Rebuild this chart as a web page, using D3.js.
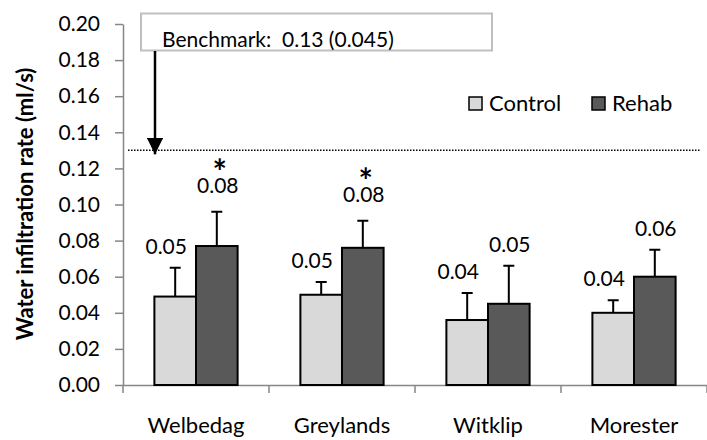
<!DOCTYPE html>
<html>
<head>
<meta charset="utf-8">
<script src="https://cdn.jsdelivr.net/npm/d3@7"></script>
<style>
  html, body { margin: 0; padding: 0; background: #fff; }
  svg { display: block; }
  text { font-family: Lato, "Open Sans", sans-serif; fill: #000; white-space: pre; }
</style>
</head>
<body>
<svg id="chart" width="707" height="440"></svg>
<script>
// ---- data ----
const categories = ["Welbedag", "Greylands", "Witklip", "Morester"];
const seriesNames = ["Control", "Rehab"];
const controlValues = [0.049, 0.050, 0.036, 0.040];
const controlErrors = [0.016, 0.007, 0.015, 0.007];
const rehabValues = [0.077, 0.076, 0.045, 0.060];
const rehabErrors = [0.019, 0.015, 0.021, 0.015];
const controlLabels = ["0.05", "0.05", "0.04", "0.04"];
const rehabLabels = ["0.08", "0.08", "0.05", "0.06"];
const significant = [true, true, false, false];
const yTicks = [0, 0.02, 0.04, 0.06, 0.08, 0.10, 0.12, 0.14, 0.16, 0.18, 0.20];
const benchmarkValue = 0.13;
const benchmarkText = "Benchmark:  0.13 (0.045)";
const yTitle = "Water infiltration rate (ml/s)";

// ---- layout ----
const svg = d3.select("#chart");
const plotL = 123, plotR = 707, plotT = 24, plotB = 385;
const colors = { Control: "#d9d9d9", Rehab: "#595959" };
const axisColor = "#868686";
const fs = "21px";

const x = d3.scaleBand().domain(categories).range([plotL, plotR])
  .paddingInner(0.43).paddingOuter(0.215);
const xs = d3.scaleBand().domain(seriesNames).range([0, x.bandwidth()]).padding(0);
const y = d3.scaleLinear().domain([0, 0.2]).range([plotB, plotT]);

const rows = categories.map((c, i) => ({
  cat: c,
  bars: [
    { s: "Control", v: controlValues[i], e: controlErrors[i], lab: controlLabels[i], star: false },
    { s: "Rehab", v: rehabValues[i], e: rehabErrors[i], lab: rehabLabels[i], star: significant[i] }
  ]
}));

// y axis
const yAxis = d3.axisLeft(y).tickValues(yTicks).tickFormat(d3.format(".2f"))
  .tickSizeInner(8).tickSizeOuter(0).tickPadding(15);
const gy = svg.append("g").attr("transform", `translate(${plotL},0)`).call(yAxis);
gy.select(".domain").attr("stroke", axisColor).attr("stroke-width", 1.5);
gy.selectAll(".tick line").attr("stroke", axisColor).attr("stroke-width", 1.5);
gy.selectAll(".tick text").style("font-family", "Lato, sans-serif").style("font-size", fs).attr("fill", "#000");

// x axis
const xAxis = d3.axisBottom(x).tickSize(0).tickPadding(32);
const gx = svg.append("g").attr("transform", `translate(0,${plotB})`).call(xAxis);
gx.select(".domain").attr("stroke", axisColor).attr("stroke-width", 1.5);
gx.selectAll(".tick text").style("font-family", "Lato, sans-serif").style("font-size", "22px").attr("fill", "#000");
// category separator ticks
const seps = categories.map(c => x(c) - x.step() * x.paddingInner() / 2).concat([plotR]);
svg.append("g").selectAll("line").data(seps).join("line")
  .attr("x1", d => d).attr("x2", d => d)
  .attr("y1", plotB).attr("y2", plotB + 8)
  .attr("stroke", axisColor).attr("stroke-width", 1.5);

// bars
const groups = svg.append("g").selectAll("g").data(rows).join("g")
  .attr("transform", d => `translate(${x(d.cat)},0)`);

groups.selectAll("rect").data(d => d.bars).join("rect")
  .attr("x", d => xs(d.s))
  .attr("y", d => y(d.v))
  .attr("width", xs.bandwidth())
  .attr("height", d => y(0) - y(d.v))
  .attr("fill", d => colors[d.s])
  .attr("stroke", "#000").attr("stroke-width", 2);

// error bars
groups.selectAll("path.err").data(d => d.bars).join("path")
  .attr("class", "err")
  .attr("d", d => {
    const cx = xs(d.s) + xs.bandwidth() / 2;
    return `M${cx},${y(d.v)}V${y(d.v + d.e)}M${cx - 5.5},${y(d.v + d.e)}H${cx + 5.5}`;
  })
  .attr("stroke", "#000").attr("stroke-width", 2).attr("fill", "none");

// value labels (significance star on its own line above the value, as one label)
const labelX = d => xs(d.s) + xs.bandwidth() / 2 + (d.s === "Control" ? -9 : 1);
const labelY = d => y(d.v + d.e) - (d.star ? 19 : 14);
const labels = groups.selectAll("text.val").data(d => d.bars).join("text")
  .attr("class", "val")
  .attr("text-anchor", "middle")
  .style("font-size", fs);
labels.filter(d => d.star).append("tspan")
  .attr("x", d => labelX(d) + 2)
  .attr("y", d => labelY(d) - 9)
  .style("font-size", "34px").style("font-weight", "bold")
  .text("*");
labels.append("tspan")
  .attr("x", labelX)
  .attr("y", labelY)
  .text(d => d.lab);

// benchmark line
svg.append("line")
  .attr("x1", plotL + 5).attr("x2", 700)
  .attr("y1", y(benchmarkValue)).attr("y2", y(benchmarkValue))
  .attr("stroke", "#000").attr("stroke-width", 1.5)
  .attr("stroke-dasharray", "1.5,1.5");

// benchmark box
svg.append("rect")
  .attr("x", 141).attr("y", 13.5).attr("width", 351).attr("height", 37)
  .attr("fill", "#fff").attr("stroke", "#bfbfbf").attr("stroke-width", 2);
svg.append("text").attr("x", 162).attr("y", 46.5)
  .style("font-size", fs).text(benchmarkText);

// arrow
svg.append("defs").append("marker")
  .attr("id", "arrow").attr("viewBox", "0 0 10 10")
  .attr("refX", 10).attr("refY", 5)
  .attr("markerWidth", 6.5).attr("markerHeight", 6.5)
  .attr("markerUnits", "strokeWidth")
  .attr("orient", "auto")
  .append("path").attr("d", "M0,0L10,5L0,10Z").attr("fill", "#000");
svg.append("line")
  .attr("x1", 155).attr("x2", 155)
  .attr("y1", 51).attr("y2", y(benchmarkValue) + 4)
  .attr("stroke", "#000").attr("stroke-width", 2.5)
  .attr("marker-end", "url(#arrow)");

// legend
const lg = svg.append("g");
const legendX = [469, 592];
seriesNames.forEach((s, i) => {
  lg.append("rect").attr("x", legendX[i]).attr("y", 97).attr("width", 13).attr("height", 13)
    .attr("fill", colors[s]).attr("stroke", "#000").attr("stroke-width", 1.5);
  lg.append("text").attr("x", legendX[i] + 20).attr("y", 110.5)
    .style("font-size", "22px").text(s);
});

// y title
svg.append("text")
  .attr("transform", `translate(33,204) rotate(-90)`)
  .attr("text-anchor", "middle")
  .style("font-size", "22px").style("font-weight", "bold")
  .text(yTitle);
</script>
</body>
</html>
